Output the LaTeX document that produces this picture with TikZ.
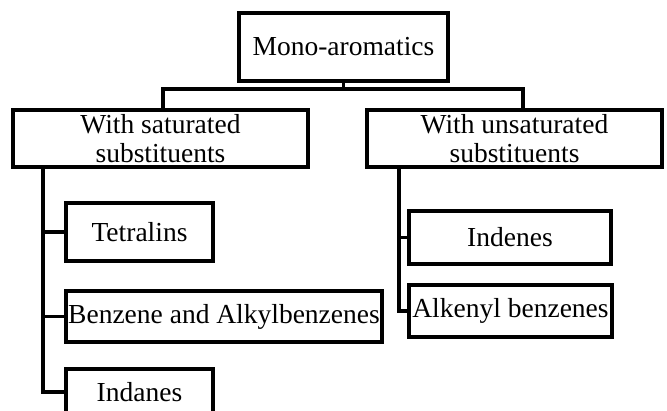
\documentclass[tikz,border=0pt]{standalone}
\usepackage{fontspec}
\setmainfont{Liberation Serif}
\usetikzlibrary{positioning}

\begin{document}
\begin{tikzpicture}
[x=1pt,y=1pt,
 box/.style={draw,line width=3.2pt,inner sep=0pt,outer sep=0pt,align=center,
   font=\fontsize{27.5}{29}\selectfont},
 link/.style={line width=3.2pt}]
\clip (0,0) rectangle (667,-411);
\node[box,minimum width=209pt,minimum height=68pt](mono) at (343.5,-47){Mono-aromatics};
\node[box,minimum width=295pt,minimum height=57pt](sat) at (160.5,-138.5){With saturated\\substituents};
\node[box,minimum width=295pt,minimum height=57pt](unsat) at (514.5,-138.5){With unsaturated\\substituents};
\node[box,minimum width=147pt,minimum height=58pt, below right=36pt and 53pt of sat.south west](tet){Tetralins};
\node[box,minimum width=316pt,minimum height=51pt, below right=30pt and 0pt of tet.south west](benz){Benzene and Alkylbenzenes};
\node[box,minimum width=147pt,minimum height=46pt, below right=27pt and 0pt of benz.south west](ind){Indanes};
\node[box,minimum width=202pt,minimum height=53pt, below right=44pt and 42pt of unsat.south west](inde){Indenes};
\node[box,minimum width=203pt,minimum height=52pt, below right=21pt and 0pt of inde.south west](alk){Alkenyl benzenes};
% top level
\draw[link] (mono.south) -- ++(0,-8) coordinate (bar);
\draw[link] ([xshift=2.5pt]sat.north) |- (bar) -| ([xshift=8.5pt]unsat.north);
% saturated
\draw[link] ([xshift=30pt]sat.south west) coordinate (ltrunk) |- (ind.west);
\draw[link] (tet.west) -- (tet.west -| ltrunk);
\draw[link] (benz.west) -- (benz.west -| ltrunk);
% unsaturated
\draw[link] ([xshift=32pt]unsat.south west) coordinate (rtrunk) |- (alk.west);
\draw[link] (inde.west) -- (inde.west -| rtrunk);
\end{tikzpicture}
\end{document}
